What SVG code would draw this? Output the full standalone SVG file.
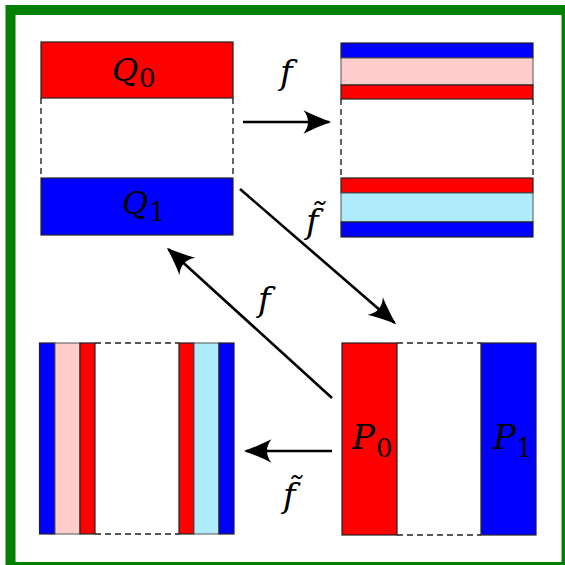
<svg xmlns="http://www.w3.org/2000/svg" width="565" height="565" viewBox="0 0 565 565">
<style>
.r{fill:#ff0000;stroke:#222;stroke-width:1.2}
.b{fill:#0000ff;stroke:#222;stroke-width:1.2}
.pk{fill:#ffcccc;stroke:#555;stroke-width:1}
.lb{fill:#aeebfb;stroke:#555;stroke-width:1}
.d{stroke:#222;stroke-width:1.4;stroke-dasharray:6 4;fill:none}
.a{stroke:#000;stroke-width:2.6;fill:none;marker-end:url(#ah)}
.m{font-family:'DejaVu Serif','Liberation Serif',serif;font-style:italic;fill:#000}
.s{font-family:'DejaVu Serif','Liberation Serif',serif;font-style:normal;fill:#000}
</style>
<defs>
<marker id="ah" markerUnits="userSpaceOnUse" markerWidth="40" markerHeight="40" refX="-2" refY="0" orient="auto" viewBox="-30 -15 36 30" overflow="visible">
<path d="M0,0 C-8,-2.8 -17,-6.5 -25,-10.5 C-19.5,-4 -19.5,4 -25,10.5 C-17,6.5 -8,2.8 0,0 Z" fill="#000"/>
</marker>
</defs>
<rect x="0" y="0" width="565" height="565" fill="#fff"/>
<rect x="10.5" y="10" width="556" height="557" fill="none" stroke="#008000" stroke-width="10"/>

<g id="Q0">
<rect class="r" x="41" y="42" width="192" height="56"/>
<text class="m" x="112" y="81" font-size="32">Q</text>
<text class="s" x="139" y="87" font-size="26">0</text>
</g>
<g id="Q1">
<rect class="b" x="41" y="178" width="192" height="57"/>
<text class="m" x="122" y="214" font-size="32">Q</text>
<text class="s" x="149" y="221" font-size="26">1</text>
</g>
<g id="Qgap">
<line class="d" x1="41" y1="98" x2="41" y2="178"/>
<line class="d" x1="233" y1="98" x2="233" y2="178"/>
</g>

<g id="fQ0">
<rect class="b" x="341" y="43" width="192" height="15"/>
<rect class="pk" x="341" y="58" width="192" height="27"/>
<rect class="r" x="341" y="85" width="192" height="14"/>
</g>
<g id="fQ1">
<rect class="r" x="341" y="178" width="192" height="15"/>
<rect class="lb" x="341" y="193" width="192" height="29"/>
<rect class="b" x="341" y="222" width="192" height="15"/>
</g>
<g id="fQgap">
<line class="d" x1="341" y1="99" x2="341" y2="178"/>
<line class="d" x1="533" y1="99" x2="533" y2="178"/>
</g>

<g id="fP0">
<rect class="b" x="39.5" y="343" width="15.5" height="191"/>
<rect class="pk" x="55" y="343" width="25" height="191"/>
<rect class="r" x="80" y="343" width="15" height="191"/>
</g>
<g id="fP1">
<rect class="r" x="179" y="343" width="15" height="191"/>
<rect class="lb" x="194" y="343" width="25" height="191"/>
<rect class="b" x="219" y="343" width="15" height="191"/>
</g>
<g id="fPgap">
<line class="d" x1="95" y1="343" x2="179" y2="343"/>
<line class="d" x1="95" y1="534" x2="179" y2="534"/>
</g>

<g id="P0">
<rect class="r" x="342" y="343" width="55" height="192"/>
<text class="m" x="352" y="449" font-size="34">P</text>
<text class="s" x="376" y="457" font-size="26">0</text>
</g>
<g id="P1">
<rect class="b" x="481" y="343" width="55" height="192"/>
<text class="m" x="493" y="449" font-size="34">P</text>
<text class="s" x="516" y="457" font-size="26">1</text>
</g>
<g id="Pgap">
<line class="d" x1="397" y1="343" x2="481" y2="343"/>
<line class="d" x1="397" y1="535" x2="481" y2="535"/>
</g>

<g id="connectors">
<line class="a" x1="243" y1="122" x2="329" y2="122"/>
<line class="a" x1="240" y1="189" x2="394.5" y2="322.7"/>
<line class="a" x1="332" y1="398" x2="168.5" y2="249.3"/>
<line class="a" x1="332" y1="451" x2="246" y2="451"/>
<text class="m" x="280" y="84" font-size="34">f</text>
<text class="m" x="306" y="233" font-size="34">f̃</text>
<text class="m" x="258" y="311" font-size="34">f</text>
<text class="m" x="283" y="507" font-size="34">f̃</text>
</g>
</svg>
